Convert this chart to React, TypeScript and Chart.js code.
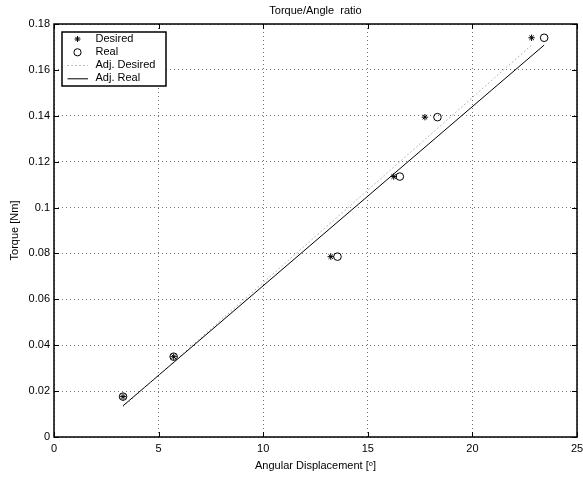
import React, { useEffect, useRef } from "react";
import { Chart, registerables } from "chart.js";

Chart.register(...registerables);

const chartTitle = "Torque/Angle  ratio";
const xTitle = "Angular Displacement [ᵒ]";
const yTitle = "Torque [Nm]";

const desiredX = [3.3, 5.72, 13.23, 16.24, 17.73, 22.83];
const desiredY = [0.0176, 0.035, 0.0786, 0.1135, 0.1394, 0.174];
const realX = [3.3, 5.72, 13.55, 16.53, 18.33, 23.43];
const realY = [0.0176, 0.035, 0.0786, 0.1135, 0.1394, 0.174];
const adjDesiredX = [3.3, 22.83];
const adjDesiredY = [0.0132, 0.1708];
const adjRealX = [3.3, 23.43];
const adjRealY = [0.0136, 0.1708];

const legendLabels = ["Desired", "Real", "Adj. Desired", "Adj. Real"];

const xMin = 0, xMax = 25, xStep = 5;
const yMin = 0, yMax = 0.18, yStep = 0.02;

const FONT = '"Liberation Sans", Arial, sans-serif';

const toPts = (xs: number[], ys: number[]) => xs.map((x, i) => ({ x, y: ys[i] }));
const fmt = (v: any) => String(Number(Number(v).toFixed(4)));

function drawStar(ctx: CanvasRenderingContext2D, x: number, y: number, r: number) {
  ctx.beginPath();
  for (let k = 0; k < 4; k++) {
    const a = (k * Math.PI) / 4;
    ctx.moveTo(x - r * Math.cos(a), y - r * Math.sin(a));
    ctx.lineTo(x + r * Math.cos(a), y + r * Math.sin(a));
  }
  ctx.stroke();
}

const framePlugin = {
  id: "matlabFrame",
  beforeDraw(chart: any) {
    const ctx = chart.ctx;
    ctx.save();
    ctx.fillStyle = "#fff";
    ctx.fillRect(0, 0, chart.width, chart.height);
    ctx.restore();
  },
  afterDraw(chart: any) {
    const ctx: CanvasRenderingContext2D = chart.ctx;
    const ca = chart.chartArea;
    const xs = chart.scales.x;
    const ys = chart.scales.y;
    ctx.save();
    ctx.strokeStyle = "#000";
    ctx.lineWidth = 1;
    const tl = 5;
    ctx.beginPath();
    xs.ticks.forEach((t: any) => {
      const px = Math.round(xs.getPixelForValue(t.value)) + 0.5;
      ctx.moveTo(px, ca.bottom);
      ctx.lineTo(px, ca.bottom - tl);
      ctx.moveTo(px, ca.top);
      ctx.lineTo(px, ca.top + tl);
    });
    ys.ticks.forEach((t: any) => {
      const py = Math.round(ys.getPixelForValue(t.value)) + 0.5;
      ctx.moveTo(ca.left, py);
      ctx.lineTo(ca.left + tl, py);
      ctx.moveTo(ca.right, py);
      ctx.lineTo(ca.right - tl, py);
    });
    ctx.stroke();
    ctx.lineWidth = 1.5;
    ctx.strokeRect(ca.left, ca.top, ca.right - ca.left, ca.bottom - ca.top);
    ctx.fillStyle = "#000";
    ctx.font = `11px ${FONT}`;
    ctx.textAlign = "center";
    ctx.textBaseline = "middle";
    ctx.fillText(chartTitle, (ca.left + ca.right) / 2, 11);
    const bx = ca.left + 8, by = ca.top + 8, bw = 104, bh = 54;
    ctx.fillStyle = "#fff";
    ctx.fillRect(bx, by, bw, bh);
    ctx.lineWidth = 1.5;
    ctx.strokeStyle = "#000";
    ctx.strokeRect(bx, by, bw, bh);
    const symX = ca.left + 23.5;
    const txtX = ca.left + 41.5;
    const rows = [15, 28.3, 41, 54.3].map((r) => ca.top + r);
    ctx.lineWidth = 1;
    drawStar(ctx, symX, rows[0], 3);
    ctx.beginPath();
    ctx.arc(symX, rows[1], 3.6, 0, Math.PI * 2);
    ctx.stroke();
    ctx.save();
    ctx.strokeStyle = "#777";
    ctx.setLineDash([1, 3]);
    ctx.beginPath();
    ctx.moveTo(ca.left + 13.5, rows[2] + 0.5);
    ctx.lineTo(ca.left + 34, rows[2] + 0.5);
    ctx.stroke();
    ctx.restore();
    ctx.beginPath();
    ctx.moveTo(ca.left + 13.5, rows[3] + 0.5);
    ctx.lineTo(ca.left + 34, rows[3] + 0.5);
    ctx.stroke();
    ctx.fillStyle = "#000";
    ctx.font = `11px ${FONT}`;
    ctx.textAlign = "left";
    ctx.textBaseline = "middle";
    legendLabels.forEach((l, i) => ctx.fillText(l, txtX, rows[i]));
    ctx.restore();
  },
};

export default function App() {
  const ref = useRef<HTMLCanvasElement>(null);
  useEffect(() => {
    if (!ref.current) return;
    const chart = new Chart(ref.current, {
      type: "scatter",
      data: {
        datasets: [
          {
            label: legendLabels[2],
            type: "line",
            data: toPts(adjDesiredX, adjDesiredY),
            borderColor: "#777",
            borderWidth: 1,
            borderDash: [1, 3],
            pointRadius: 0,
            fill: false,
          },
          {
            label: legendLabels[3],
            type: "line",
            data: toPts(adjRealX, adjRealY),
            borderColor: "#000",
            borderWidth: 1,
            pointRadius: 0,
            fill: false,
          },
          {
            label: legendLabels[1],
            data: toPts(realX, realY),
            pointStyle: "circle",
            pointRadius: 3.8,
            borderColor: "#000",
            backgroundColor: "rgba(0,0,0,0)",
            borderWidth: 1,
          },
          {
            label: legendLabels[0],
            data: toPts(desiredX, desiredY),
            pointStyle: "star",
            pointRadius: 3.2,
            borderColor: "#000",
            backgroundColor: "#000",
            borderWidth: 1,
          },
        ],
      },
      options: {
        responsive: false,
        animation: false,
        events: [],
        layout: { padding: { top: 24, right: 6, left: 0, bottom: 0 } },
        plugins: {
          legend: { display: false },
          title: { display: false },
          tooltip: { enabled: false },
        },
        scales: {
          x: {
            type: "linear",
            min: xMin,
            max: xMax,
            ticks: {
              stepSize: xStep,
              color: "#000",
              font: { family: FONT, size: 11 },
              padding: 5,
              maxRotation: 0,
              callback: fmt,
            },
            grid: { color: "rgba(0,0,0,0.55)", lineWidth: 1, drawTicks: false },
            border: { display: false, dash: [1, 3] },
            title: {
              display: true,
              text: xTitle,
              color: "#000",
              font: { family: FONT, size: 11 },
              padding: { top: 0, bottom: 4 },
            },
            afterFit(s: any) {
              s.height = 40;
              s.paddingLeft = 0;
              s.paddingRight = 0;
            },
          },
          y: {
            type: "linear",
            min: yMin,
            max: yMax,
            ticks: {
              stepSize: yStep,
              color: "#000",
              font: { family: FONT, size: 11 },
              padding: 4,
              callback: fmt,
            },
            grid: { color: "rgba(0,0,0,0.55)", lineWidth: 1, drawTicks: false },
            border: { display: false, dash: [1, 3] },
            title: {
              display: true,
              text: yTitle,
              color: "#000",
              font: { family: FONT, size: 11 },
              padding: { top: 8, bottom: 0 },
            },
            afterFit(s: any) {
              s.width = 54;
              s.paddingTop = 0;
              s.paddingBottom = 0;
            },
          },
        },
      } as any,
      plugins: [framePlugin],
    });
    return () => chart.destroy();
  }, []);
  return (
    <div style={{ position: "fixed", left: 0, top: 0, width: 583, height: 477 }}>
      <canvas ref={ref} width={583} height={477} />
    </div>
  );
}
